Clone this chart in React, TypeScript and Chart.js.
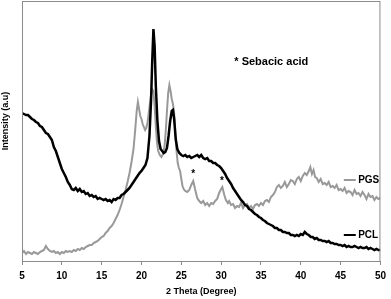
import React, { useEffect, useRef } from "react";
import { Chart, registerables } from "chart.js";

Chart.register(...registerables);

const pclTheta = [5.0,5.25,5.5,5.75,6.0,6.25,6.5,6.75,7.0,7.25,7.5,7.75,8.0,8.25,8.5,8.75,9.0,9.25,9.5,9.75,10.0,10.25,10.5,10.75,11.0,11.25,11.5,11.75,12.0,12.25,12.5,12.75,13.0,13.25,13.5,13.75,14.0,14.25,14.5,14.75,15.0,15.25,15.5,15.75,16.0,16.25,16.5,16.75,17.0,17.25,17.5,17.75,18.0,18.25,18.5,18.75,19.0,19.25,19.5,19.75,20.0,20.25,20.5,20.75,21.0,21.2,21.35,21.5,21.65,21.8,22.0,22.2,22.4,22.6,22.8,23.0,23.2,23.4,23.6,23.8,23.95,24.1,24.3,24.5,24.75,25.0,25.25,25.5,25.75,26.0,26.25,26.5,26.75,27.0,27.25,27.5,27.75,28.0,28.25,28.5,28.75,29.0,29.25,29.5,29.75,30.0,30.25,30.5,30.75,31.0,31.25,31.5,31.75,32.0,32.25,32.5,32.75,33.0,33.25,33.5,33.75,34.0,34.25,34.5,34.75,35.0,35.25,35.5,35.75,36.0,36.25,36.5,36.75,37.0,37.25,37.5,37.75,38.0,38.25,38.5,38.75,39.0,39.25,39.5,39.75,40.0,40.25,40.5,40.75,41.0,41.25,41.5,41.75,42.0,42.25,42.5,42.75,43.0,43.25,43.5,43.75,44.0,44.25,44.5,44.75,45.0,45.25,45.5,45.75,46.0,46.25,46.5,46.75,47.0,47.25,47.5,47.75,48.0,48.25,48.5,48.75,49.0,49.25,49.5,49.75,50.0];
const pclIntensity = [148,147,146,146,144,142,141,139,138,135,134,131,128,127,124,121,114,110,104,98,92,88,84,79,76,72,71,73,70,72,69,70,67,68,65,66,64,65,62,63,62,61,62,60,61,59,62,61,63,63,66,67,69,71,73,76,79,82,85,88,90,93,96,103,125,160,200,232,215,175,140,120,112,110,108,109,113,125,140,150,151,142,122,112,108,106,105,106,104,105,103,104,105,106,104,106,103,102,103,100,100,98,98,96,95,93,90,87,83,80,77,73,70,67,64,61,59,56,55,52,51,49,47,46,44,43,41,40,38,37,36,35,33,33,31,31,29,29,28,28,26,26,25,26,25,27,26,29,27,26,24,24,22,23,21,21,20,20,19,20,18,18,17,17,16,16,15,16,14,15,14,14,15,14,13,14,13,13,14,12,13,12,11,12,11,11];

const pgsTheta = [5.0,5.25,5.5,5.75,6.0,6.25,6.5,6.75,7.0,7.25,7.5,7.75,8.0,8.25,8.5,8.75,9.0,9.25,9.5,9.75,10.0,10.25,10.5,10.75,11.0,11.25,11.5,11.75,12.0,12.25,12.5,12.75,13.0,13.25,13.5,13.75,14.0,14.25,14.5,14.75,15.0,15.25,15.5,15.75,16.0,16.25,16.5,16.75,17.0,17.25,17.5,17.75,18.0,18.25,18.5,18.75,19.0,19.2,19.4,19.55,19.7,19.85,20.0,20.15,20.3,20.45,20.6,20.75,20.9,21.05,21.2,21.35,21.5,21.65,21.8,21.95,22.1,22.3,22.5,22.7,22.9,23.05,23.2,23.35,23.5,23.65,23.8,23.95,24.1,24.25,24.4,24.55,24.7,24.85,25.0,25.15,25.3,25.5,25.75,26.0,26.25,26.5,26.75,27.0,27.25,27.5,27.75,28.0,28.25,28.5,28.75,29.0,29.25,29.5,29.75,30.0,30.15,30.4,30.6,30.85,31.0,31.25,31.5,31.75,32.0,32.25,32.5,32.75,33.0,33.25,33.5,33.75,34.0,34.25,34.5,34.75,35.0,35.25,35.5,35.75,36.0,36.25,36.5,36.75,37.0,37.25,37.5,37.75,38.0,38.25,38.5,38.75,39.0,39.25,39.5,39.75,40.0,40.25,40.5,40.75,41.0,41.2,41.4,41.6,41.8,42.0,42.25,42.5,42.75,43.0,43.25,43.5,43.75,44.0,44.25,44.5,44.75,45.0,45.25,45.5,45.75,46.0,46.25,46.5,46.75,47.0,47.25,47.5,47.75,48.0,48.25,48.5,48.75,49.0,49.25,49.5,49.75,50.0];
const pgsIntensity = [8,10,7,9,8,7,9,8,7,9,10,11,15,12,10,9,10,8,9,7,9,8,10,9,10,9,11,10,12,11,13,12,14,15,16,16,18,19,20,22,24,25,28,30,33,35,38,42,46,51,57,64,71,79,88,99,112,130,150,159,152,145,142,137,134,131,133,138,147,157,166,172,170,155,135,118,110,106,104,107,115,130,150,168,176,170,162,157,148,128,110,98,93,90,82,75,72,70,69,71,76,80,71,63,60,58,60,56,58,55,58,57,60,62,68,72,74,66,61,58,60,56,57,53,55,54,58,53,56,57,53,55,52,56,57,55,58,56,60,61,59,64,66,69,74,76,73,75,79,74,77,81,80,77,82,84,80,85,88,86,90,94,87,91,84,83,79,82,77,78,76,79,74,75,73,76,71,72,70,73,68,70,69,66,71,67,68,65,69,66,62,67,64,65,61,64,62,63];

const xTickMin = 5;
const xTickMax = 50;
const xTickStep = 5;
const yMin = 0;
const yMax = 260;

const seriesNames = ["PCL", "PGS"];
const annotationText = "* Sebacic acid";
const asteriskMarks = [
  { theta: 26.5, intensity: 89 },
  { theta: 30.1, intensity: 82 },
];

const FONT = "'Liberation Sans Narrow', 'Liberation Sans', Arial, sans-serif";

const decorPlugin = {
  id: "decor",
  afterDraw(chart: any) {
    const { ctx, chartArea, scales } = chart;
    const xs = scales.x;
    const ys = scales.y;
    ctx.save();
    ctx.strokeStyle = "#8c8c8c";
    ctx.lineWidth = 1;
    ctx.strokeRect(chartArea.left + 0.5, chartArea.top + 0.5, chartArea.right - chartArea.left - 1, chartArea.bottom - chartArea.top);
    ctx.fillStyle = "#000";
    ctx.font = `bold 9px ${FONT}`;
    ctx.textAlign = "center";
    ctx.textBaseline = "middle";
    ctx.save();
    ctx.translate(6, 121);
    ctx.rotate(-Math.PI / 2);
    ctx.fillText("Intensity (a.u)", 0, 0);
    ctx.restore();
    ctx.font = `bold 11px ${FONT}`;
    ctx.fillText(annotationText, xs.getPixelForValue(36.3), ys.getPixelForValue(199));
    ctx.font = `bold 10px ${FONT}`;
    for (const a of asteriskMarks) {
      ctx.fillText("*", xs.getPixelForValue(a.theta), ys.getPixelForValue(a.intensity) + 2);
    }
    const labels = [
      { name: seriesNames[1], color: "#999999", y: 81 },
      { name: seriesNames[0], color: "#000000", y: 26 },
    ];
    ctx.font = `bold 10px ${FONT}`;
    ctx.textAlign = "left";
    for (const l of labels) {
      const py = ys.getPixelForValue(l.y);
      ctx.strokeStyle = l.color;
      ctx.lineWidth = 2;
      ctx.beginPath();
      ctx.moveTo(xs.getPixelForValue(45.4), py);
      ctx.lineTo(xs.getPixelForValue(46.9), py);
      ctx.stroke();
      ctx.fillStyle = "#000";
      ctx.fillText(l.name, xs.getPixelForValue(47.2), py);
    }
    ctx.restore();
  },
};

export default function App() {
  const ref = useRef<HTMLCanvasElement | null>(null);
  useEffect(() => {
    document.body.style.margin = "0";
    const canvas = ref.current!;
    const chart = new Chart(canvas, {
      type: "line",
      data: {
        datasets: [
          {
            label: seriesNames[0],
            data: pclTheta.map((t, i) => ({ x: t, y: pclIntensity[i] })),
            borderColor: "#000000",
            borderWidth: 2.5,
            pointRadius: 0,
            tension: 0,
          },
          {
            label: seriesNames[1],
            data: pgsTheta.map((t, i) => ({ x: t, y: pgsIntensity[i] })),
            borderColor: "#999999",
            borderWidth: 2,
            pointRadius: 0,
            tension: 0,
          },
        ],
      },
      options: {
        responsive: false,
        animation: false,
        layout: { padding: { left: 22, right: 7, top: 1, bottom: 0 } },
        plugins: { legend: { display: false }, tooltip: { enabled: false } },
        scales: {
          x: {
            type: "linear",
            min: xTickMin,
            max: xTickMax,
            afterFit(scale: any) {
              scale.height = 38;
            },
            ticks: {
              stepSize: xTickStep,
              color: "#000",
              padding: 5,
              font: { family: FONT, size: 10, weight: "bold" },
              maxRotation: 0,
            },
            grid: {
              drawOnChartArea: false,
              drawTicks: true,
              tickLength: 4,
              color: "#8c8c8c",
            },
            border: { color: "#8c8c8c" },
            title: {
              display: true,
              text: "2 Theta (Degree)",
              color: "#000",
              font: { family: FONT, size: 9, weight: "bold" },
              padding: { top: 2, bottom: 2 },
            },
          },
          y: {
            display: false,
            min: yMin,
            max: yMax,
          },
        },
      },
      plugins: [decorPlugin],
    });
    return () => chart.destroy();
  }, []);
  return (
    <div style={{ width: 391, height: 299 }}>
      <canvas ref={ref} width={391} height={299} />
    </div>
  );
}
